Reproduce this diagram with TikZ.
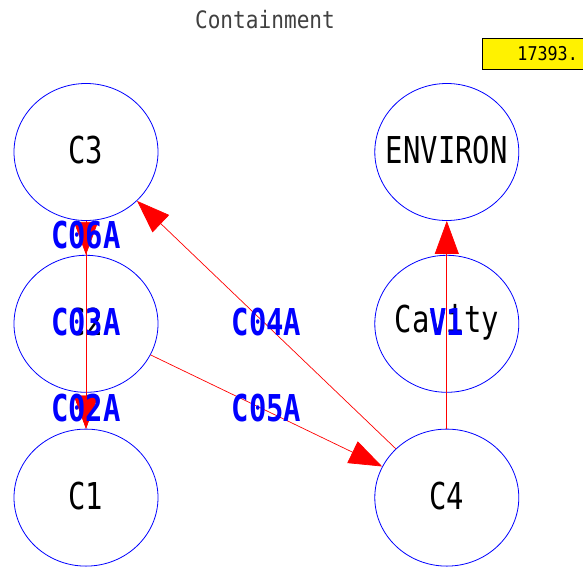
\documentclass[tikz,border=0pt]{standalone}
\usepackage{fontspec}
\newfontfamily\plotfont[FakeStretch=0.78]{DejaVu Sans Mono}
\newfontfamily\thinfont[FakeStretch=0.88]{DejaVu Sans Mono}
\usepackage{tikz}
\usetikzlibrary{positioning, shapes.geometric, arrows.meta}

\tikzset{
  statetxt/.style={inner sep=0pt, yshift=2pt, text=black, font=\plotfont\fontsize{37}{37}\selectfont},
  state/.style={ellipse, draw=blue, line width=0.8pt, inner sep=0pt,
    minimum width=144pt, minimum height=137pt, label={[statetxt]center:#1}},
  link/.style={draw=red, line width=0.7pt, -{Triangle[length=33pt, width=24pt]}, red},
  lbl/.style={inner sep=0pt, yshift=3pt, text=blue, font=\plotfont\bfseries\fontsize{37}{37}\selectfont},
  valbox/.style={draw=black, fill=yellow, line width=0.7pt, inner sep=0pt,
    minimum width=102pt, minimum height=31pt, text width=89pt, align=right,
    font=\thinfont\fontsize{19}{19}\selectfont},
}

\begin{document}
\begin{tikzpicture}[x=1pt,y=1pt]

  \useasboundingbox (0,0) rectangle (583,-568);

  \node[font=\thinfont\fontsize{24}{24}\selectfont, text=black!75] (title) at (265,-20) {Containment};
  \node[valbox, anchor=north west] (val) at (482,-38) {17393.};

  \node[state=C3] (c_3) at (86,-152) {};
  \node[state=C2, below=34pt of c_3] (c_2) {};
  \node[state=C1, below=36pt of c_2] (c_1) {};

  \node[state=ENVIRON, right=216pt of c_3] (env) {};
  \node[state=Cavity, right=216pt of c_2] (cavity) {};
  \node[state=C4, right=216pt of c_1] (c_4) {};

  \draw[link] (c_3) -- node[lbl] {C06A} (c_2);
  \draw[link] (c_3) -- node[lbl] {C03A} (c_1);
  \draw[link] (c_2) -- node[lbl] {C02A} (c_1);
  \draw[link] (c_4) -- node[lbl] {C04A} (c_3);
  \draw[link] (c_2) -- node[lbl] {C05A} (c_4);
  \draw[link] (c_4) -- node[lbl] {V1} (env);

\end{tikzpicture}
\end{document}
